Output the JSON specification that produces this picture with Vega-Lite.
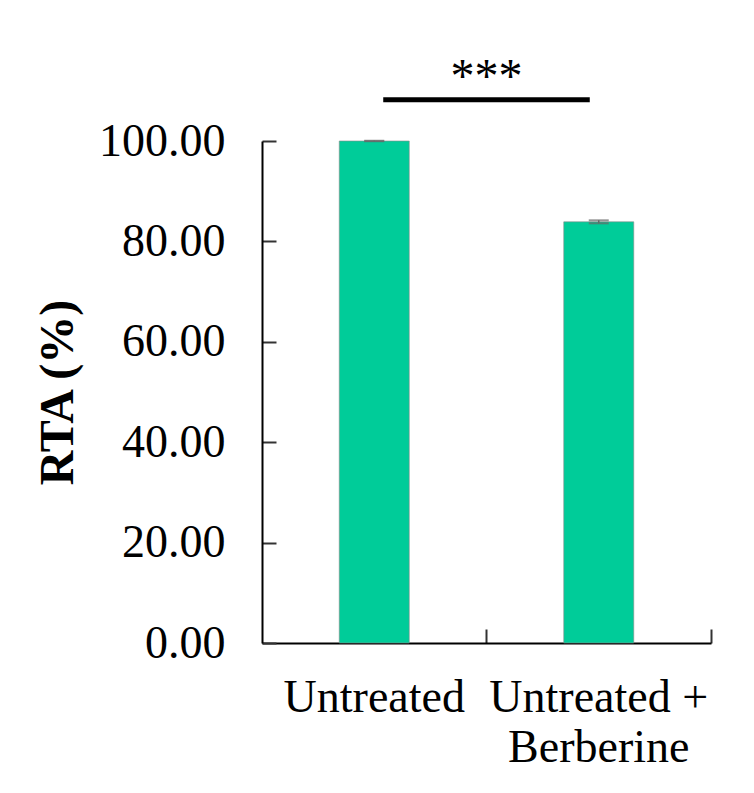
{
  "$schema": "https://vega.github.io/schema/vega-lite/v6.json",
  "autosize": {"type": "none"},
  "padding": {"left": 262, "top": 141, "right": 43, "bottom": 150},
  "width": 449,
  "height": 502,
  "background": "white",
  "config": {"view": {"stroke": null}},
  "datasets": {
    "bars": [
      {"group": "Untreated", "rta": 100.0, "lo": 99.95, "hi": 100.05},
      {"group": "Untreated + Berberine", "rta": 83.9, "lo": 83.6, "hi": 84.2}
    ],
    "sig": [
      {"from": "Untreated", "to": "Untreated + Berberine", "y": 108.2, "ty": 109.8, "label": "***"}
    ]
  },
  "layer": [
    {
      "data": {"name": "bars"},
      "mark": {"type": "bar", "width": 70, "color": "#00CC99", "stroke": "#8a8a8a", "strokeWidth": 0.6},
      "encoding": {
        "x": {
          "field": "group", "type": "nominal", "sort": null,
          "scale": {"type": "band", "paddingInner": 0, "paddingOuter": 0},
          "axis": {
            "title": null,
            "labelAngle": 0,
            "bandPosition": 1,
            "labelFont": "Liberation Serif",
            "labelFontSize": 46,
            "labelColor": "black",
            "labelPadding": 46,
            "labelLimit": 0,
            "labelLineHeight": 50,
            "labelExpr": "datum.value == 'Untreated + Berberine' ? ['Untreated +', 'Berberine'] : datum.value",
            "domainColor": "black",
            "domainWidth": 2,
            "tickColor": "#333",
            "tickWidth": 2,
            "tickSize": -14
          }
        },
        "y": {
          "field": "rta", "type": "quantitative",
          "scale": {"domain": [0, 100], "nice": false},
          "axis": {
            "title": "RTA (%)",
            "titleFont": "Liberation Serif",
            "titleFontSize": 48,
            "titleFontWeight": "bold",
            "titleColor": "black",
            "titleAngle": -90,
            "titleX": -204,
            "titleY": 251,
            "titleAlign": "center",
            "titleBaseline": "middle",
            "values": [0, 20, 40, 60, 80, 100],
            "format": ".2f",
            "labelFont": "Liberation Serif",
            "labelFontSize": 46,
            "labelColor": "black",
            "labelPadding": 51,
            "grid": false,
            "domainColor": "black",
            "domainWidth": 2,
            "tickColor": "#333",
            "tickWidth": 2,
            "tickSize": -14
          }
        }
      }
    },
    {
      "data": {"name": "bars"},
      "mark": {"type": "rule", "color": "#666", "strokeWidth": 1.5},
      "encoding": {
        "x": {"field": "group", "type": "nominal", "sort": null},
        "y": {"field": "lo", "type": "quantitative"},
        "y2": {"field": "hi"}
      }
    },
    {
      "data": {"name": "bars"},
      "mark": {"type": "tick", "color": "#666", "size": 20, "thickness": 2, "orient": "horizontal"},
      "encoding": {
        "x": {"field": "group", "type": "nominal", "sort": null},
        "y": {"field": "hi", "type": "quantitative"}
      }
    },
    {
      "data": {"name": "bars"},
      "mark": {"type": "tick", "color": "#666", "size": 20, "thickness": 2, "orient": "horizontal"},
      "encoding": {
        "x": {"field": "group", "type": "nominal", "sort": null},
        "y": {"field": "lo", "type": "quantitative"}
      }
    },
    {
      "data": {"name": "sig"},
      "mark": {"type": "rule", "color": "black", "strokeWidth": 5, "clip": false},
      "encoding": {
        "x": {"field": "from", "type": "nominal", "bandPosition": 0.54},
        "x2": {"field": "to", "bandPosition": 0.46},
        "y": {"field": "y", "type": "quantitative"}
      }
    },
    {
      "data": {"name": "sig"},
      "mark": {"type": "text", "font": "Liberation Serif", "fontSize": 48, "color": "black", "baseline": "alphabetic", "align": "center", "clip": false},
      "encoding": {
        "x": {"field": "from", "type": "nominal", "bandPosition": 1},
        "y": {"field": "ty", "type": "quantitative"},
        "text": {"field": "label"}
      }
    }
  ]
}
